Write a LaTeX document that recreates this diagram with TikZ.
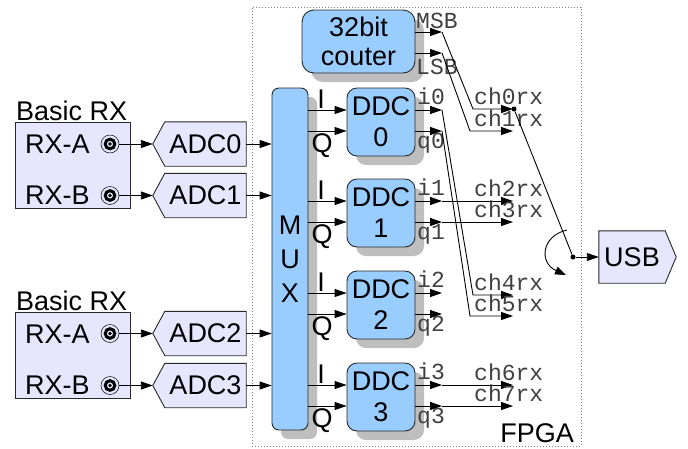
\documentclass[tikz,border=0pt]{standalone}
\usepackage{fontspec}
\setmainfont{Liberation Sans}
\setmonofont{Liberation Mono}
\usetikzlibrary{shadows,arrows.meta,calc,backgrounds}
\definecolor{blu}{RGB}{153,204,255}
\definecolor{lav}{RGB}{230,230,255}
\definecolor{shd}{RGB}{190,190,190}
\definecolor{edge}{RGB}{40,40,40}
\begin{document}
\begin{tikzpicture}[x=1pt,y=-1pt,
  sans/.style={font=\fontsize{27}{31}\selectfont},
  mono/.style={font=\ttfamily\fontsize{23}{25}\selectfont, text=black!75, inner sep=0},
  blk/.style={draw=edge, line width=0.9pt, fill=blu, rounded corners=10pt, inner sep=0, align=center, sans,
    drop shadow={shadow xshift=9pt,shadow yshift=-9pt,fill=shd,opacity=1}},
  lavbox/.style={draw=edge, line width=0.9pt, fill=lav},
  arr/.style={line width=0.9pt, -{Triangle[length=12pt,width=8pt]}},
  wire/.style={line width=0.9pt},
  conn/.style={circle, draw=black, line width=0.5pt, minimum size=18pt, inner sep=0,
    path picture={\draw[line width=3pt] (path picture bounding box.center) circle (4.8pt);
      \fill (path picture bounding box.center) circle (1.8pt);}},
  dot/.style={circle, fill=black, inner sep=0, minimum size=5pt},
  plain/.style={sans, inner sep=0}
]
\useasboundingbox (0,0) rectangle (688,448);

% FPGA frame
\node[draw=gray, dotted, line width=1pt, minimum width=329pt, minimum height=439pt, inner sep=0] (fpga) at (416.5,226.5) {};
\node[plain, anchor=base east] (fpgalbl) at (574,442) {FPGA};

% Basic RX boards
\node[lavbox, minimum width=115pt, minimum height=86pt, inner sep=0] (rx1) at (72.5,165) {};
\node[plain, anchor=base west] (rx1t) at (16,120) {Basic RX};
\node[plain, anchor=base west] (rx1a) at (25,153) {RX-A};
\node[plain, anchor=base west] (rx1b) at (25,204.5) {RX-B};
\node[conn] (c1a) at (110,144) {};
\node[conn] (c1b) at (110,195.5) {};

\node[lavbox, minimum width=115pt, minimum height=86pt, inner sep=0] (rx2) at (72.5,355) {};
\node[plain, anchor=base west] (rx2t) at (16,310) {Basic RX};
\node[plain, anchor=base west] (rx2a) at (25,343) {RX-A};
\node[plain, anchor=base west] (rx2b) at (25,394.5) {RX-B};
\node[conn] (c2a) at (110,333.5) {};
\node[conn] (c2b) at (110,385.5) {};

% ADCs (text area; outline drawn on background layer)
\node[plain, minimum width=81pt, minimum height=44pt] (adc0) at (205.5,144) {ADC0};
\node[plain, minimum width=81pt, minimum height=44pt] (adc1) at (205.5,195.5) {ADC1};
\node[plain, minimum width=81pt, minimum height=44pt] (adc2) at (205.5,333.5) {ADC2};
\node[plain, minimum width=81pt, minimum height=44pt] (adc3) at (205.5,385.5) {ADC3};
\foreach \k in {0,1,2,3} {\coordinate (tip\k) at ($(adc\k.west)+(-12,0)$);}

% USB
\node[plain, minimum width=66pt, minimum height=52pt] (usb) at (632,257) {USB};

% MUX, counter, DDCs
\node[blk, rounded corners=7pt, minimum width=36pt, minimum height=342pt, font=\fontsize{27}{34}\selectfont] (mux) at (290,259) {M\\U\\X};
\node[blk, rounded corners=12pt, minimum width=113pt, minimum height=63pt, font=\fontsize{27}{29}\selectfont] (cnt) at (358.5,41.5) {32bit\\couter};

\foreach \i/\c in {0/122,1/213,2/305,3/397} {
  \node[blk, minimum width=68pt, minimum height=68pt] (ddc\i) at (381,\c) {DDC\\\i};
  \coordinate (dI\i) at ($(ddc\i.west)+(0,-12)$);
  \coordinate (dQ\i) at ($(ddc\i.west)+(0,9)$);
  \coordinate (oi\i) at ($(ddc\i.center)+(61,-12)$);
  \coordinate (oq\i) at ($(ddc\i.center)+(61,9)$);
  \draw[arr] (mux.east |- dI\i) -- (dI\i);
  \draw[arr] (mux.east |- dQ\i) -- (dQ\i);
  \draw[arr] (ddc\i.east |- oi\i) -- (oi\i);
  \draw[arr] (ddc\i.east |- oq\i) -- (oq\i);
  \node[plain, anchor=base] (lI\i) at ($(ddc\i.center)+(-60,-14)$) {I};
  \node[plain, anchor=base] (lQ\i) at ($(ddc\i.center)+(-59,30)$) {Q};
  \node[mono, anchor=base west] (li\i) at ($(ddc\i.center)+(36,-18)$) {i\i};
  \node[mono, anchor=base west] (lq\i) at ($(ddc\i.center)+(36,26)$) {q\i};
}

% ADC connections
\draw[arr] (c1a.east) -- (tip0);
\draw[arr] (c1b.east) -- (tip1);
\draw[arr] (c2a.east) -- (tip2);
\draw[arr] (c2b.east) -- (tip3);
\foreach \k in {0,1,2,3} {\draw[arr] (adc\k.east) -- (mux.west |- adc\k.east);}

% counter outputs
\coordinate (msb) at (442,32);
\coordinate (lsb) at (442,53);
\draw[arr] (cnt.east |- msb) -- (msb);
\draw[arr] (cnt.east |- lsb) -- (lsb);
\node[mono, anchor=base west] (lmsb) at (416,28) {MSB};
\node[mono, anchor=base west] (llsb) at (416,74) {LSB};

% channel outputs
\coordinate (ch0) at (513,109);
\coordinate (ch1) at (513,131);
\coordinate (ch2) at (oi1 -| ch0);
\coordinate (ch3) at (oq1 -| ch0);
\coordinate (ch4) at (513,295);
\coordinate (ch5) at (513,316);
\coordinate (ch6) at (oi3 -| ch0);
\coordinate (ch7) at (oq3 -| ch0);
\draw[arr] (msb) -- (473,109) -- (ch0);
\draw[arr] (lsb) -- (470,131) -- (ch1);
\draw[arr] (oi0) -- (473,295) -- (ch4);
\draw[arr] (oq0) -- (470,316) -- (ch5);
\draw[arr] (oi1) -- (ch2);
\draw[arr] (oq1) -- (ch3);
\draw[arr] (oi3) -- (ch6);
\draw[arr] (oq3) -- (ch7);
\foreach \n in {0,...,7} {\node[mono, anchor=base west] (lch\n) at ($(ch\n)+(-39,-5)$) {ch\n rx};}

% selector to USB
\node[dot] (j0) at (514,109) {};
\node[dot] (j1) at (573,257) {};
\draw[wire] (j0) -- (j1);
\draw[arr] (j1) -- (usb.west);
\draw[line width=0.9pt, -{Triangle[length=11pt,width=8pt]}] (567,230) .. controls (541,236) and (539,263) .. (566,275);

\begin{scope}[on background layer]
  \fill[white] (0,0) rectangle (688,448);
  \foreach \k in {0,1,2,3} {
    \draw[lavbox] (tip\k) -- (adc\k.north west) -- (adc\k.north east) -- (adc\k.south east) -- (adc\k.south west) -- cycle;
  }
  \draw[lavbox] (usb.north west) -- (usb.north east) -- ($(usb.east)+(11,0)$) -- (usb.south east) -- (usb.south west) -- cycle;
\end{scope}
\end{tikzpicture}
\end{document}
